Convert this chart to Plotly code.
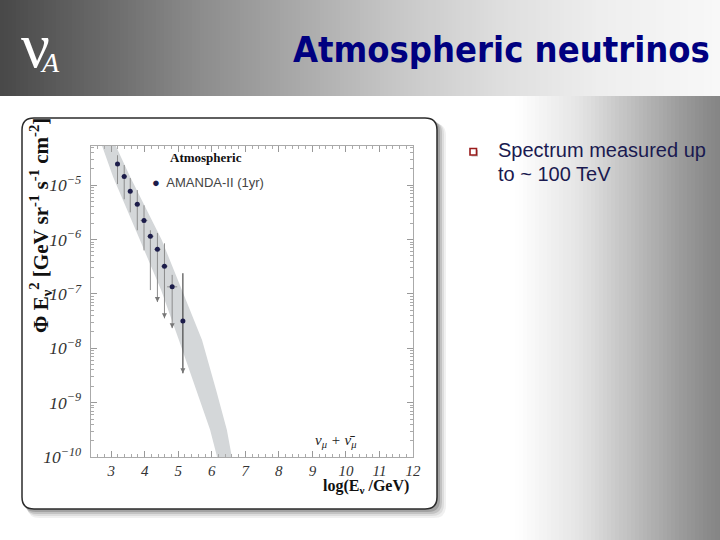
import numpy as np
import plotly.graph_objects as go

# ---------------- data ----------------
log_e = [3.19, 3.39, 3.57, 3.78, 3.98, 4.17, 4.38, 4.59, 4.82, 5.14]
log_flux = [-4.61, -4.84, -5.11, -5.35, -5.65, -5.94, -6.18, -6.49, -6.87, -7.50]
log_flux_hi = [-4.45, -4.63, -4.87, -5.09, -5.37, -5.83, -5.88, -6.07, -6.65, -6.62]
log_flux_lo = [-4.98, -5.26, -5.50, -5.83, -6.20, -6.93, -7.15, -7.45, -7.63, -8.46]
bin_halfwidth = [0.0, 0.08, 0.06, 0.08, 0.10, 0.10, 0.10, 0.10, 0.15, 0.0]
arrow_flag = [0, 0, 0, 0, 0, 0, 1, 1, 1, 1]

band_logy = [-4.0, -4.28, -4.85, -6.01, -6.93, -7.85, -8.77, -9.50, -10.0, -10.3]
band_left_x = [2.57, 2.73, 3.06, 3.86, 4.49, 5.02, 5.53, 5.95, 6.16, 6.28]
band_right_x = [2.93, 3.14, 3.57, 4.51, 5.11, 5.71, 6.13, 6.45, 6.60, 6.69]

x_ticks = [3, 4, 5, 6, 7, 8, 9, 10, 11, 12]

W, H = 720, 540


def px(x):
    return x / W


def py(y):
    return 1 - y / H


def interp_color(x, stops):
    xs = [s[0] for s in stops]
    vs = [s[1] for s in stops]
    v = int(round(np.interp(x, xs, vs)))
    return f"rgb({v},{v},{v})"


def rounded_rect(x0, y0, x1, y1, r):
    X0, X1 = px(x0), px(x1)
    Y0, Y1 = py(y0), py(y1)
    rx, ry = r / W, r / H
    return (f"M{X0+rx},{Y0} L{X1-rx},{Y0} Q{X1},{Y0} {X1},{Y0-ry} "
            f"L{X1},{Y1+ry} Q{X1},{Y1} {X1-rx},{Y1} L{X0+rx},{Y1} "
            f"Q{X0},{Y1} {X0},{Y1+ry} L{X0},{Y0-ry} Q{X0},{Y0} {X0+rx},{Y0} Z")


shapes = []
# body right-side gradient
body_stops = [(515, 255), (580, 228), (630, 192), (680, 156), (710, 137), (720, 133)]
step = 4
for x in range(515, 720, step):
    shapes.append(dict(type="rect", xref="paper", yref="paper",
                       x0=px(x), x1=px(x + step + 0.5), y0=0, y1=py(96),
                       fillcolor=interp_color(x + step / 2, body_stops),
                       line=dict(width=0), layer="below"))
# header gradient
head_stops = [(0, 72), (100, 104), (200, 140), (300, 170), (400, 200),
              (500, 222), (600, 238), (720, 248)]
for x in range(0, 720, step):
    shapes.append(dict(type="rect", xref="paper", yref="paper",
                       x0=px(x), x1=px(x + step + 0.5), y0=py(96), y1=1,
                       fillcolor=interp_color(x + step / 2, head_stops),
                       line=dict(width=0), layer="below"))
# panel shadow
for off, alpha in [(9, 0.06), (7, 0.08), (5, 0.12), (3, 0.16)]:
    shapes.append(dict(type="path", xref="paper", yref="paper",
                       path=rounded_rect(22 + off * 0.6, 118 + off * 0.6, 437 + off, 509 + off, 12),
                       fillcolor=f"rgba(0,0,0,{alpha})", line=dict(width=0), layer="below"))
# panel
shapes.append(dict(type="path", xref="paper", yref="paper",
                   path=rounded_rect(22, 118, 437, 509, 12),
                   fillcolor="white", line=dict(color="#2b2b2b", width=1.5), layer="below"))
# bullet square
shapes.append(dict(type="rect", xref="paper", yref="paper",
                   x0=px(471.5), x1=px(478), y0=py(156.5), y1=py(150),
                   fillcolor="rgba(0,0,0,0.25)", line=dict(width=0), layer="above"))
shapes.append(dict(type="rect", xref="paper", yref="paper",
                   x0=px(470), x1=px(476.5), y0=py(155), y1=py(148.5),
                   fillcolor="white", line=dict(color="#9a1c1c", width=1.6), layer="above"))

fig = go.Figure()

# atmospheric band
bx = band_left_x + band_right_x[::-1]
by = [10 ** v for v in band_logy + band_logy[::-1]]
fig.add_trace(go.Scatter(x=bx, y=by, fill="toself", mode="lines",
                         fillcolor="#d4d7d9", line=dict(width=0),
                         hoverinfo="skip", showlegend=False))

yv = np.power(10.0, log_flux)
ehi = np.power(10.0, log_flux_hi) - yv
elo = yv - np.power(10.0, log_flux_lo)

idx_a = list(range(0, 9))
idx_b = [9]
for idx, ecol in [(idx_a, "#8c8c8c"), (idx_b, "#2a2a2a")]:
    fig.add_trace(go.Scatter(
        x=[log_e[i] for i in idx], y=[yv[i] for i in idx], mode="markers",
        marker=dict(color="#1c1c4a", size=5),
        error_y=dict(type="data", symmetric=False,
                     array=[ehi[i] for i in idx], arrayminus=[elo[i] for i in idx],
                     color=ecol, thickness=1, width=0),
        error_x=dict(type="data", array=[bin_halfwidth[i] for i in idx],
                     color=ecol, thickness=1, width=0),
        name="AMANDA-II (1yr)", showlegend=False))

# upper-limit arrow heads at lower ends
ax_ = [log_e[i] for i in range(len(log_e)) if arrow_flag[i]]
ay_ = [10 ** log_flux_lo[i] for i in range(len(log_e)) if arrow_flag[i]]
fig.add_trace(go.Scatter(x=ax_, y=ay_, mode="markers",
                         marker=dict(symbol="arrow-down", size=5, color="#777"),
                         hoverinfo="skip", showlegend=False))

serif = "Liberation Serif"
title_font = "DejaVu Sans Condensed, Liberation Sans, sans-serif"
annotations = [
    dict(text="Atmospheric neutrinos", x=px(712), y=py(50), xanchor="right", yanchor="middle",
         font=dict(family=title_font, size=36, color="#000080", weight="bold")),
    dict(text="ν", x=px(35), y=py(46), xanchor="center", yanchor="middle",
         font=dict(family=serif, size=64, color="white")),
    dict(text="A", x=px(50), y=py(62), xanchor="center", yanchor="middle",
         font=dict(family=serif, size=28, color="white", style="italic")),
    dict(text="Spectrum measured up", x=px(496), y=py(150), xanchor="left", yanchor="middle",
         font=dict(family="Liberation Sans", size=20, color="#1a1a50")),
    dict(text="to ~ 100 TeV", x=px(496), y=py(174), xanchor="left", yanchor="middle",
         font=dict(family="Liberation Sans", size=20, color="#1a1a50")),
    dict(text="Φ E<sub>ν</sub><sup>2</sup> [GeV sr<sup>-1</sup> s<sup>-1</sup> cm<sup>-2</sup>]",
         x=px(40), y=py(226), textangle=-90, xanchor="center", yanchor="middle",
         font=dict(family=serif, size=21, color="#111", weight="bold")),
    dict(text="log(E<sub>ν</sub> /GeV)", x=px(411), y=py(486), xanchor="right", yanchor="middle",
         font=dict(family=serif, size=16, color="#111", weight="bold")),
    dict(text="Atmospheric", x=px(206), y=py(158), xanchor="center", yanchor="middle",
         font=dict(family=serif, size=13, color="#111", weight="bold")),
    dict(text='<span style="color:#1c1c4a">●</span>  AMANDA-II (1yr)', x=px(150), y=py(182),
         xanchor="left", yanchor="middle",
         font=dict(family="Liberation Sans", size=13, color="#444")),
    dict(text="ν<sub>μ</sub> + ν\u0304<sub>μ</sub>", x=px(336), y=py(441), xanchor="center", yanchor="middle",
         font=dict(family=serif, size=15, color="#222", style="italic")),
]
for a in annotations:
    a.update(xref="paper", yref="paper", showarrow=False)

fig.update_layout(
    width=W, height=H, autosize=False, margin=dict(l=0, r=0, t=0, b=0, pad=0, autoexpand=False),
    paper_bgcolor="white", plot_bgcolor="rgba(0,0,0,0)",
    shapes=shapes, annotations=annotations, showlegend=False,
    xaxis=dict(domain=[px(91), px(413)], range=[2.4, 12.0], tickvals=x_ticks, automargin=False,
               ticks="inside", ticklen=6, tickcolor="#999", mirror="allticks",
               showline=True, linecolor="#aaa", linewidth=1, showgrid=False, zeroline=False,
               minor=dict(ticks="inside", ticklen=3, dtick=0.2, tickcolor="#aaa", showgrid=False),
               tickfont=dict(family=serif, size=15, color="#333", style="italic")),
    yaxis=dict(domain=[py(457), py(146)], type="log", range=[-10, -4.28], dtick=1, automargin=False,
               exponentformat="power", showexponent="all",
               ticks="inside", ticklen=6, tickcolor="#999", mirror="allticks",
               showline=True, linecolor="#aaa", linewidth=1, showgrid=False, zeroline=False,
               minor=dict(ticks="inside", ticklen=3, tickcolor="#aaa", showgrid=False),
               ticklabelstandoff=6,
               tickfont=dict(family=serif, size=14, color="#333", style="italic")),
)

post = """
var de=document.documentElement, b=document.body;
[de,b].forEach(function(e){e.style.margin='0';e.style.padding='0';e.style.overflow='hidden';});
"""
fig.write_html("out.html", config={"displayModeBar": False, "responsive": False}, post_script=post)
